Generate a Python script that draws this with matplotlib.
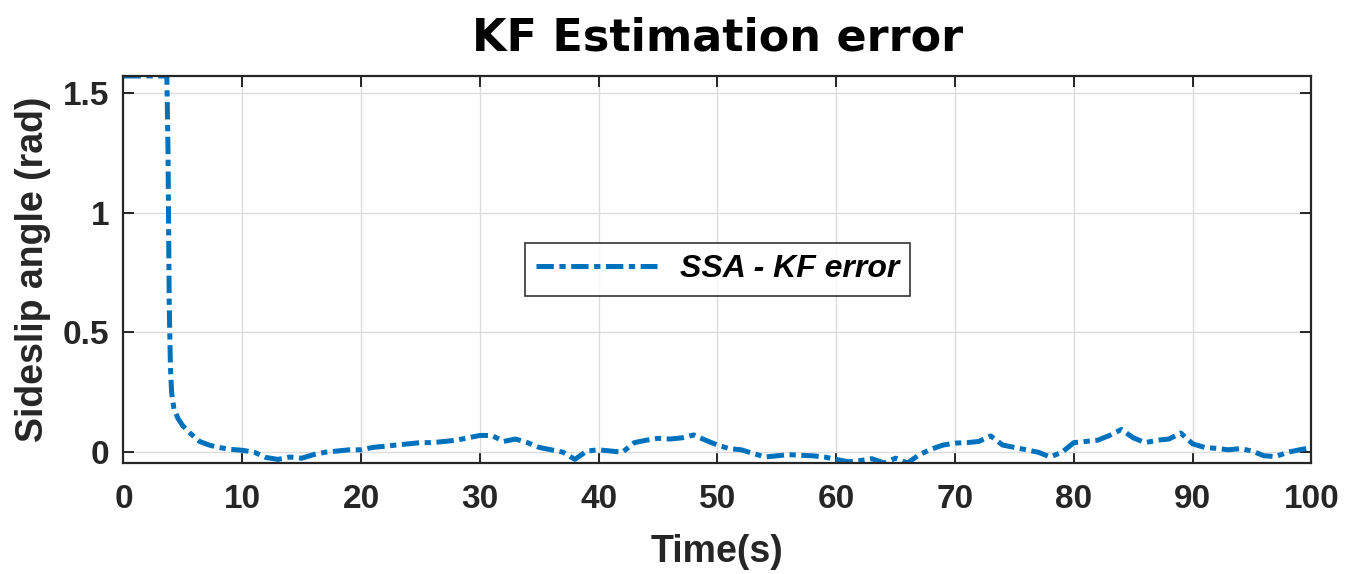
import numpy as np
import matplotlib
matplotlib.use("Agg")
import matplotlib.pyplot as plt

# Sideslip-angle estimation error of the Kalman filter over the run
time_s = [0.0, 3.65, 3.75, 3.85, 3.95, 4.05, 4.25, 4.6, 5.0, 5.6, 6.4, 7.2, 8.0, 9.0, 10.0,
          11, 12, 13, 14, 15, 16, 17, 18, 19, 20, 21, 22, 23, 24, 25, 26, 27, 28, 29, 30,
          31, 32, 33, 34, 35, 36, 37, 38, 39, 40, 41, 42, 43, 44, 45, 46, 47, 48, 49, 50,
          51, 52, 53, 54, 55, 56, 57, 58, 59, 60, 61, 62, 63, 64, 65, 66, 67, 68, 69, 70,
          71, 72, 73, 74, 75, 76, 77, 78, 79, 80, 81, 82, 83, 84, 85, 86, 87, 88, 89, 90,
          91, 92, 93, 94, 95, 96, 97, 98, 99, 100]
ssa_error = [1.5708, 1.5708, 1.25, 0.62, 0.36, 0.25, 0.18, 0.14, 0.11, 0.08, 0.045, 0.03, 0.02, 0.012, 0.008,
             0.0, -0.022, -0.03, -0.02, -0.025, -0.01, 0.0, 0.005, 0.01, 0.01, 0.02, 0.025, 0.03, 0.035, 0.04,
             0.04, 0.045, 0.05, 0.06, 0.07, 0.07, 0.045, 0.055, 0.04, 0.02, 0.01, 0.0, -0.03, 0.005, 0.01,
             0.005, 0.0, 0.04, 0.05, 0.058, 0.055, 0.06, 0.072, 0.05, 0.03, 0.015, 0.01, -0.005, -0.02, -0.015,
             -0.01, -0.013, -0.015, -0.02, -0.03, -0.04, -0.035, -0.027, -0.045, -0.025, -0.045, -0.01, 0.013,
             0.03, 0.038, 0.04, 0.045, 0.068, 0.03, 0.02, 0.01, 0.0, -0.02, 0.0, 0.04, 0.045, 0.05, 0.07, 0.095,
             0.06, 0.04, 0.05, 0.055, 0.08, 0.035, 0.02, 0.016, 0.01, 0.015, 0.005, -0.015, -0.018, 0.0, 0.01, 0.02]

x_ticks = list(range(0, 101, 10))
y_ticks = [0, 0.5, 1, 1.5]
y_tick_labels = ["0", "0.5", "1", "1.5"]

line_color = "#0072BD"
ink = "#262626"

plt.rcParams["lines.scale_dashes"] = False

fig = plt.figure(figsize=(13.6, 5.74), dpi=100)
ax = fig.add_axes([0.0908, 0.1934, 0.8735, 0.6742])

ax.plot(time_s, ssa_error, color=line_color, linewidth=3.6,
        dashes=(12.5, 4.0, 4.5, 4.0), label="SSA - KF error")

ax.set_xlim(0, 100)
ax.set_ylim(-0.045, np.pi / 2)
ax.set_xticks(x_ticks)
ax.set_yticks(y_ticks)
ax.set_yticklabels(y_tick_labels)

ax.grid(True, color="#dcdcdc", linewidth=1.0)
ax.set_axisbelow(True)
for sp in ax.spines.values():
    sp.set_color(ink)
    sp.set_linewidth(1.6)
ax.tick_params(direction="in", top=True, right=True, length=8, width=1.4, color=ink)
ax.tick_params(axis="x", labelsize=24, pad=15)
ax.tick_params(axis="y", labelsize=24, pad=10)
for lab in ax.get_xticklabels() + ax.get_yticklabels():
    lab.set_fontweight("bold")
    lab.set_family("Liberation Sans")
    lab.set_color(ink)

ax.set_xlabel("Time(s)", fontsize=27, fontweight="bold", family="Liberation Sans",
              color=ink, labelpad=14)
ax.set_ylabel("Sideslip angle (rad)", fontsize=27, fontweight="bold", family="Liberation Sans",
              color=ink, labelpad=9)
ax.set_title("KF Estimation error", fontsize=32, fontweight="bold", family="DejaVu Sans",
             color="black", pad=18)

leg = ax.legend(loc="center", prop={"family": "Liberation Sans", "style": "italic",
                                    "weight": "bold", "size": 23},
                frameon=True, fancybox=False, edgecolor="black", handlelength=3.8,
                borderpad=0.35, handletextpad=0.7)
leg.get_frame().set_linewidth(1.2)

fig.savefig("out.png", dpi=100, facecolor="white")
